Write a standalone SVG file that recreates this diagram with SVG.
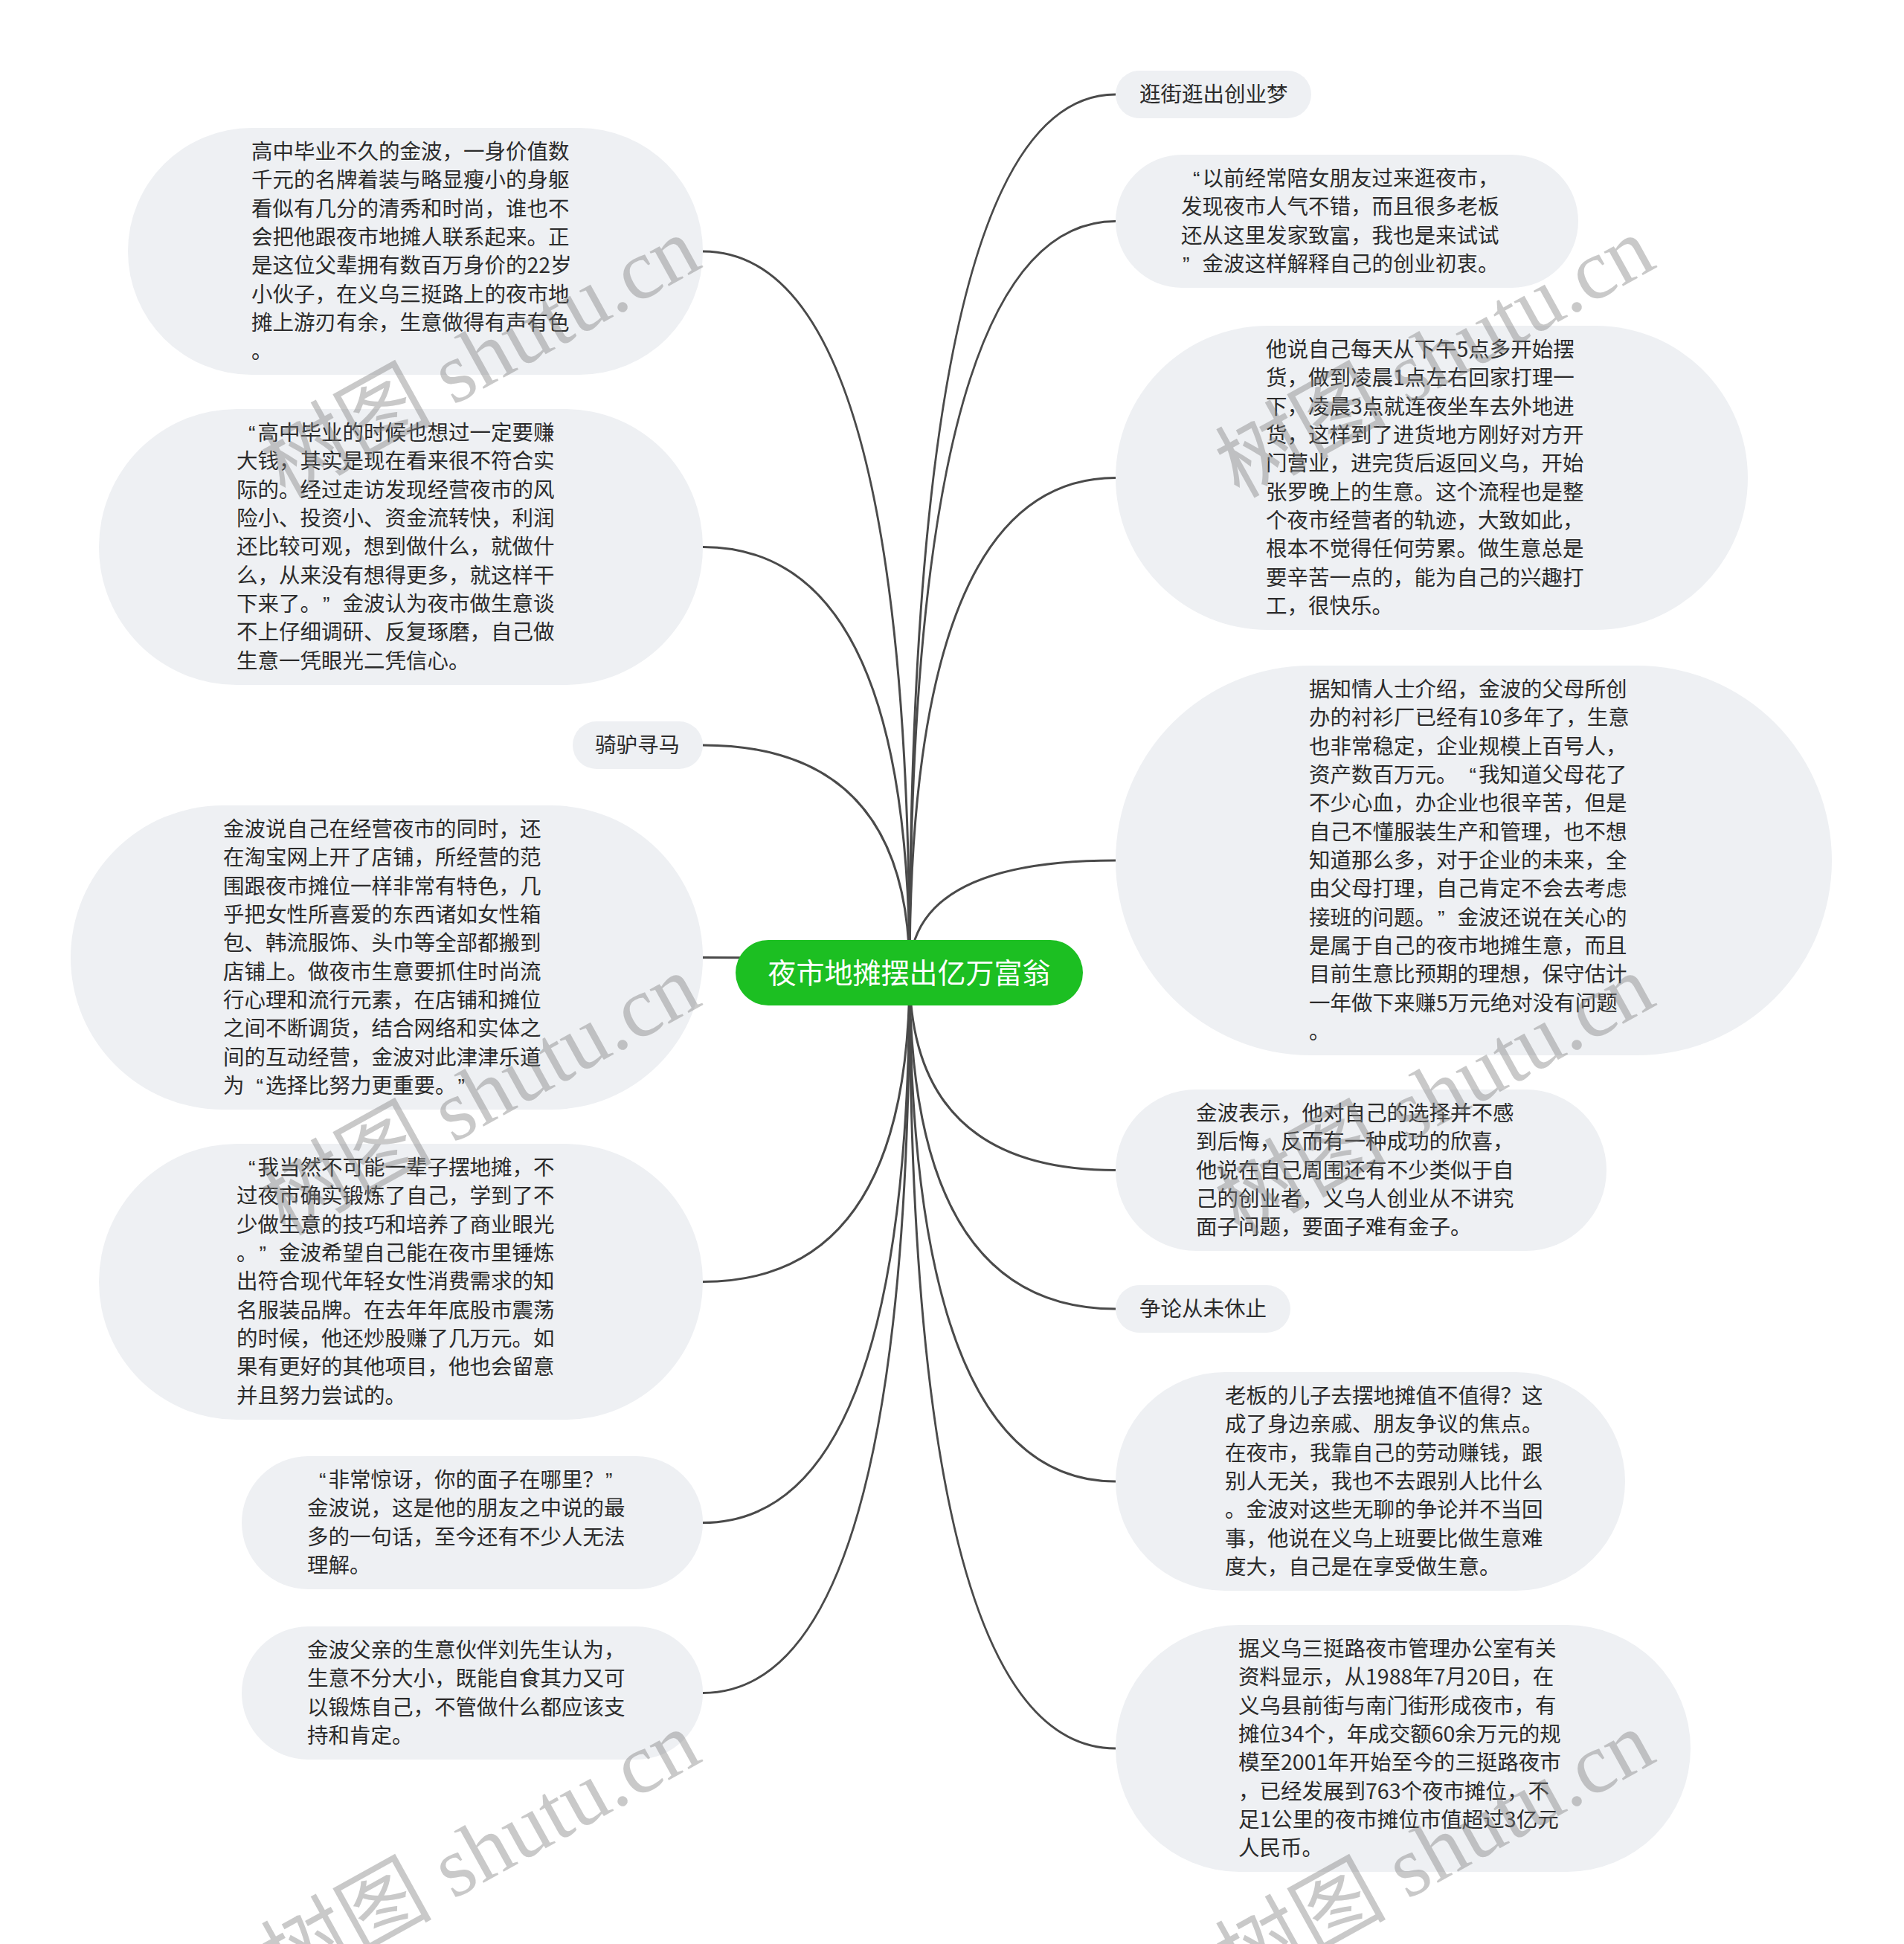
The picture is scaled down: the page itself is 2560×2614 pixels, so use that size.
<svg xmlns="http://www.w3.org/2000/svg" width="2560" height="2614" viewBox="0 0 2560 2614">
<style>
.bg{fill:#ffffff}
.node rect{fill:#eef0f3}
.t{font-family:'Noto Sans CJK SC','Liberation Sans',sans-serif;font-size:28.5px;fill:#2b2b2b}
.qq{font-family:'Liberation Sans',sans-serif}
.edge{fill:none;stroke:#4a4a4a;stroke-width:3}
.root rect{fill:#1cbf22}
.rt{font-family:'Noto Sans CJK SC','Liberation Sans',sans-serif;font-size:38px;fill:#ffffff;text-anchor:middle}
.wm{font-family:'Liberation Serif','Noto Sans CJK SC',serif;font-size:115px;fill:#808080;opacity:0.42;text-anchor:end}
</style>
<rect class="bg" x="0" y="0" width="2560" height="2614"/>
<g id="connectors">
<path class="edge" d="M1223,1308 Q1223,338 945,338"/>
<path class="edge" d="M1223,1308 Q1223,735.5 945,735.5"/>
<path class="edge" d="M1223,1308 Q1223,1002 945,1002"/>
<path class="edge" d="M1223,1308 Q1223,1287.5 945,1287.5"/>
<path class="edge" d="M1223,1308 Q1223,1723.5 945,1723.5"/>
<path class="edge" d="M1223,1308 Q1223,2047.5 945,2047.5"/>
<path class="edge" d="M1223,1308 Q1223,2276.5 945,2276.5"/>
<path class="edge" d="M1223,1308 Q1223,127 1500,127"/>
<path class="edge" d="M1223,1308 Q1223,297.5 1500,297.5"/>
<path class="edge" d="M1223,1308 Q1223,642.5 1500,642.5"/>
<path class="edge" d="M1223,1308 Q1223,1157 1500,1157"/>
<path class="edge" d="M1223,1308 Q1223,1573.5 1500,1573.5"/>
<path class="edge" d="M1223,1308 Q1223,1760 1500,1760"/>
<path class="edge" d="M1223,1308 Q1223,1992 1500,1992"/>
<path class="edge" d="M1223,1308 Q1223,2351 1500,2351"/>
</g>
<g id="root" class="root">
<rect x="989" y="1264" width="467" height="88" rx="44"/>
<text class="rt" x="1222.5" y="1322">夜市地摊摆出亿万富翁</text>
</g>
<g id="L1" class="node">
<rect x="172" y="172" width="773" height="332" rx="166"/>
<text class="t" x="338" y="214"><tspan x="338">高中毕业不久的金波，一身价值数</tspan><tspan x="338" dy="38.33">千元的名牌着装与略显瘦小的身躯</tspan><tspan x="338" dy="38.33">看似有几分的清秀和时尚，谁也不</tspan><tspan x="338" dy="38.33">会把他跟夜市地摊人联系起来。正</tspan><tspan x="338" dy="38.33">是这位父辈拥有数百万身价的22岁</tspan><tspan x="338" dy="38.33">小伙子，在义乌三挺路上的夜市地</tspan><tspan x="338" dy="38.33">摊上游刃有余，生意做得有声有色</tspan><tspan x="338" dy="38.33">。</tspan></text>
</g>
<g id="L2" class="node">
<rect x="133" y="550" width="812" height="371" rx="185.5"/>
<text class="t" x="318" y="592"><tspan class="qq" x="334">“</tspan><tspan x="346.5">高中毕业的时候也想过一定要赚</tspan><tspan x="318" dy="38.33">大钱，其实是现在看来很不符合实</tspan><tspan x="318" dy="38.33">际的。经过走访发现经营夜市的风</tspan><tspan x="318" dy="38.33">险小、投资小、资金流转快，利润</tspan><tspan x="318" dy="38.33">还比较可观，想到做什么，就做什</tspan><tspan x="318" dy="38.33">么，从来没有想得更多，就这样干</tspan><tspan x="318" dy="38.33">下来了。</tspan><tspan class="qq" x="434">”</tspan><tspan x="460.5">金波认为夜市做生意谈</tspan><tspan x="318" dy="38.33">不上仔细调研、反复琢磨，自己做</tspan><tspan x="318" dy="38.33">生意一凭眼光二凭信心。</tspan></text>
</g>
<g id="L3" class="node">
<rect x="770" y="970" width="175" height="64" rx="32"/>
<text class="t" x="800" y="1012">骑驴寻马</text>
</g>
<g id="L4" class="node">
<rect x="95" y="1083" width="850" height="409" rx="204.5"/>
<text class="t" x="300" y="1125"><tspan x="300">金波说自己在经营夜市的同时，还</tspan><tspan x="300" dy="38.33">在淘宝网上开了店铺，所经营的范</tspan><tspan x="300" dy="38.33">围跟夜市摊位一样非常有特色，几</tspan><tspan x="300" dy="38.33">乎把女性所喜爱的东西诸如女性箱</tspan><tspan x="300" dy="38.33">包、韩流服饰、头巾等全部都搬到</tspan><tspan x="300" dy="38.33">店铺上。做夜市生意要抓住时尚流</tspan><tspan x="300" dy="38.33">行心理和流行元素，在店铺和摊位</tspan><tspan x="300" dy="38.33">之间不断调货，结合网络和实体之</tspan><tspan x="300" dy="38.33">间的互动经营，金波对此津津乐道</tspan><tspan x="300" dy="38.33">为</tspan><tspan class="qq" x="344.5">“</tspan><tspan x="357">选择比努力更重要。</tspan><tspan class="qq" x="615.5">”</tspan></text>
</g>
<g id="L5" class="node">
<rect x="133" y="1538" width="812" height="371" rx="185.5"/>
<text class="t" x="318" y="1580"><tspan class="qq" x="334">“</tspan><tspan x="346.5">我当然不可能一辈子摆地摊，不</tspan><tspan x="318" dy="38.33">过夜市确实锻炼了自己，学到了不</tspan><tspan x="318" dy="38.33">少做生意的技巧和培养了商业眼光</tspan><tspan x="318" dy="38.33">。</tspan><tspan class="qq" x="348.5">”</tspan><tspan x="375">金波希望自己能在夜市里锤炼</tspan><tspan x="318" dy="38.33">出符合现代年轻女性消费需求的知</tspan><tspan x="318" dy="38.33">名服装品牌。在去年年底股市震荡</tspan><tspan x="318" dy="38.33">的时候，他还炒股赚了几万元。如</tspan><tspan x="318" dy="38.33">果有更好的其他项目，他也会留意</tspan><tspan x="318" dy="38.33">并且努力尝试的。</tspan></text>
</g>
<g id="L6" class="node">
<rect x="325" y="1958" width="620" height="179" rx="89.5"/>
<text class="t" x="413" y="2000"><tspan class="qq" x="429">“</tspan><tspan x="441.5">非常惊讶，你的面子在哪里？</tspan><tspan class="qq" x="814">”</tspan><tspan x="413" dy="38.33">金波说，这是他的朋友之中说的最</tspan><tspan x="413" dy="38.33">多的一句话，至今还有不少人无法</tspan><tspan x="413" dy="38.33">理解。</tspan></text>
</g>
<g id="L7" class="node">
<rect x="325" y="2187" width="620" height="179" rx="89.5"/>
<text class="t" x="413" y="2229"><tspan x="413">金波父亲的生意伙伴刘先生认为，</tspan><tspan x="413" dy="38.33">生意不分大小，既能自食其力又可</tspan><tspan x="413" dy="38.33">以锻炼自己，不管做什么都应该支</tspan><tspan x="413" dy="38.33">持和肯定。</tspan></text>
</g>
<g id="R1" class="node">
<rect x="1500" y="95" width="263" height="64" rx="32"/>
<text class="t" x="1532" y="137">逛街逛出创业梦</text>
</g>
<g id="R2" class="node">
<rect x="1500" y="208" width="622" height="179" rx="89.5"/>
<text class="t" x="1588" y="250"><tspan class="qq" x="1604">“</tspan><tspan x="1616.5">以前经常陪女朋友过来逛夜市，</tspan><tspan x="1588" dy="38.33">发现夜市人气不错，而且很多老板</tspan><tspan x="1588" dy="38.33">还从这里发家致富，我也是来试试</tspan><tspan class="qq" x="1590" dy="38.33">”</tspan><tspan x="1616.5">金波这样解释自己的创业初衷。</tspan></text>
</g>
<g id="R3" class="node">
<rect x="1500" y="438" width="850" height="409" rx="204.5"/>
<text class="t" x="1702" y="480"><tspan x="1702">他说自己每天从下午5点多开始摆</tspan><tspan x="1702" dy="38.33">货，做到凌晨1点左右回家打理一</tspan><tspan x="1702" dy="38.33">下，凌晨3点就连夜坐车去外地进</tspan><tspan x="1702" dy="38.33">货，这样到了进货地方刚好对方开</tspan><tspan x="1702" dy="38.33">门营业，进完货后返回义乌，开始</tspan><tspan x="1702" dy="38.33">张罗晚上的生意。这个流程也是整</tspan><tspan x="1702" dy="38.33">个夜市经营者的轨迹，大致如此，</tspan><tspan x="1702" dy="38.33">根本不觉得任何劳累。做生意总是</tspan><tspan x="1702" dy="38.33">要辛苦一点的，能为自己的兴趣打</tspan><tspan x="1702" dy="38.33">工，很快乐。</tspan></text>
</g>
<g id="R4" class="node">
<rect x="1500" y="895" width="963" height="524" rx="262"/>
<text class="t" x="1760" y="937"><tspan x="1760">据知情人士介绍，金波的父母所创</tspan><tspan x="1760" dy="38.33">办的衬衫厂已经有10多年了，生意</tspan><tspan x="1760" dy="38.33">也非常稳定，企业规模上百号人，</tspan><tspan x="1760" dy="38.33">资产数百万元。</tspan><tspan class="qq" x="1975.5">“</tspan><tspan x="1988">我知道父母花了</tspan><tspan x="1760" dy="38.33">不少心血，办企业也很辛苦，但是</tspan><tspan x="1760" dy="38.33">自己不懂服装生产和管理，也不想</tspan><tspan x="1760" dy="38.33">知道那么多，对于企业的未来，全</tspan><tspan x="1760" dy="38.33">由父母打理，自己肯定不会去考虑</tspan><tspan x="1760" dy="38.33">接班的问题。</tspan><tspan class="qq" x="1933">”</tspan><tspan x="1959.5">金波还说在关心的</tspan><tspan x="1760" dy="38.33">是属于自己的夜市地摊生意，而且</tspan><tspan x="1760" dy="38.33">目前生意比预期的理想，保守估计</tspan><tspan x="1760" dy="38.33">一年做下来赚5万元绝对没有问题</tspan><tspan x="1760" dy="38.33">。</tspan></text>
</g>
<g id="R5" class="node">
<rect x="1500" y="1465" width="660" height="217" rx="108.5"/>
<text class="t" x="1608" y="1507"><tspan x="1608">金波表示，他对自己的选择并不感</tspan><tspan x="1608" dy="38.33">到后悔，反而有一种成功的欣喜，</tspan><tspan x="1608" dy="38.33">他说在自己周围还有不少类似于自</tspan><tspan x="1608" dy="38.33">己的创业者，义乌人创业从不讲究</tspan><tspan x="1608" dy="38.33">面子问题，要面子难有金子。</tspan></text>
</g>
<g id="R6" class="node">
<rect x="1500" y="1728" width="235" height="64" rx="32"/>
<text class="t" x="1532" y="1770">争论从未休止</text>
</g>
<g id="R7" class="node">
<rect x="1500" y="1845" width="685" height="294" rx="147"/>
<text class="t" x="1647" y="1887"><tspan x="1647">老板的儿子去摆地摊值不值得？这</tspan><tspan x="1647" dy="38.33">成了身边亲戚、朋友争议的焦点。</tspan><tspan x="1647" dy="38.33">在夜市，我靠自己的劳动赚钱，跟</tspan><tspan x="1647" dy="38.33">别人无关，我也不去跟别人比什么</tspan><tspan x="1647" dy="38.33">。金波对这些无聊的争论并不当回</tspan><tspan x="1647" dy="38.33">事，他说在义乌上班要比做生意难</tspan><tspan x="1647" dy="38.33">度大，自己是在享受做生意。</tspan></text>
</g>
<g id="R8" class="node">
<rect x="1500" y="2185" width="773" height="332" rx="166"/>
<text class="t" x="1665" y="2227"><tspan x="1665">据义乌三挺路夜市管理办公室有关</tspan><tspan x="1665" dy="38.33">资料显示，从1988年7月20日，在</tspan><tspan x="1665" dy="38.33">义乌县前街与南门街形成夜市，有</tspan><tspan x="1665" dy="38.33">摊位34个，年成交额60余万元的规</tspan><tspan x="1665" dy="38.33">模至2001年开始至今的三挺路夜市</tspan><tspan x="1665" dy="38.33">，已经发展到763个夜市摊位，不</tspan><tspan x="1665" dy="38.33">足1公里的夜市摊位市值超过3亿元</tspan><tspan x="1665" dy="38.33">人民币。</tspan></text>
</g>
<g id="watermarks">
<text class="wm" x="947" y="358" transform="rotate(-29 947 358)">树图 shutu.cn</text>
<text class="wm" x="2230" y="358" transform="rotate(-29 2230 358)">树图 shutu.cn</text>
<text class="wm" x="947" y="1350" transform="rotate(-29 947 1350)">树图 shutu.cn</text>
<text class="wm" x="2230" y="1350" transform="rotate(-29 2230 1350)">树图 shutu.cn</text>
<text class="wm" x="947" y="2367" transform="rotate(-29 947 2367)">树图 shutu.cn</text>
<text class="wm" x="2230" y="2367" transform="rotate(-29 2230 2367)">树图 shutu.cn</text>
</g>
</svg>
